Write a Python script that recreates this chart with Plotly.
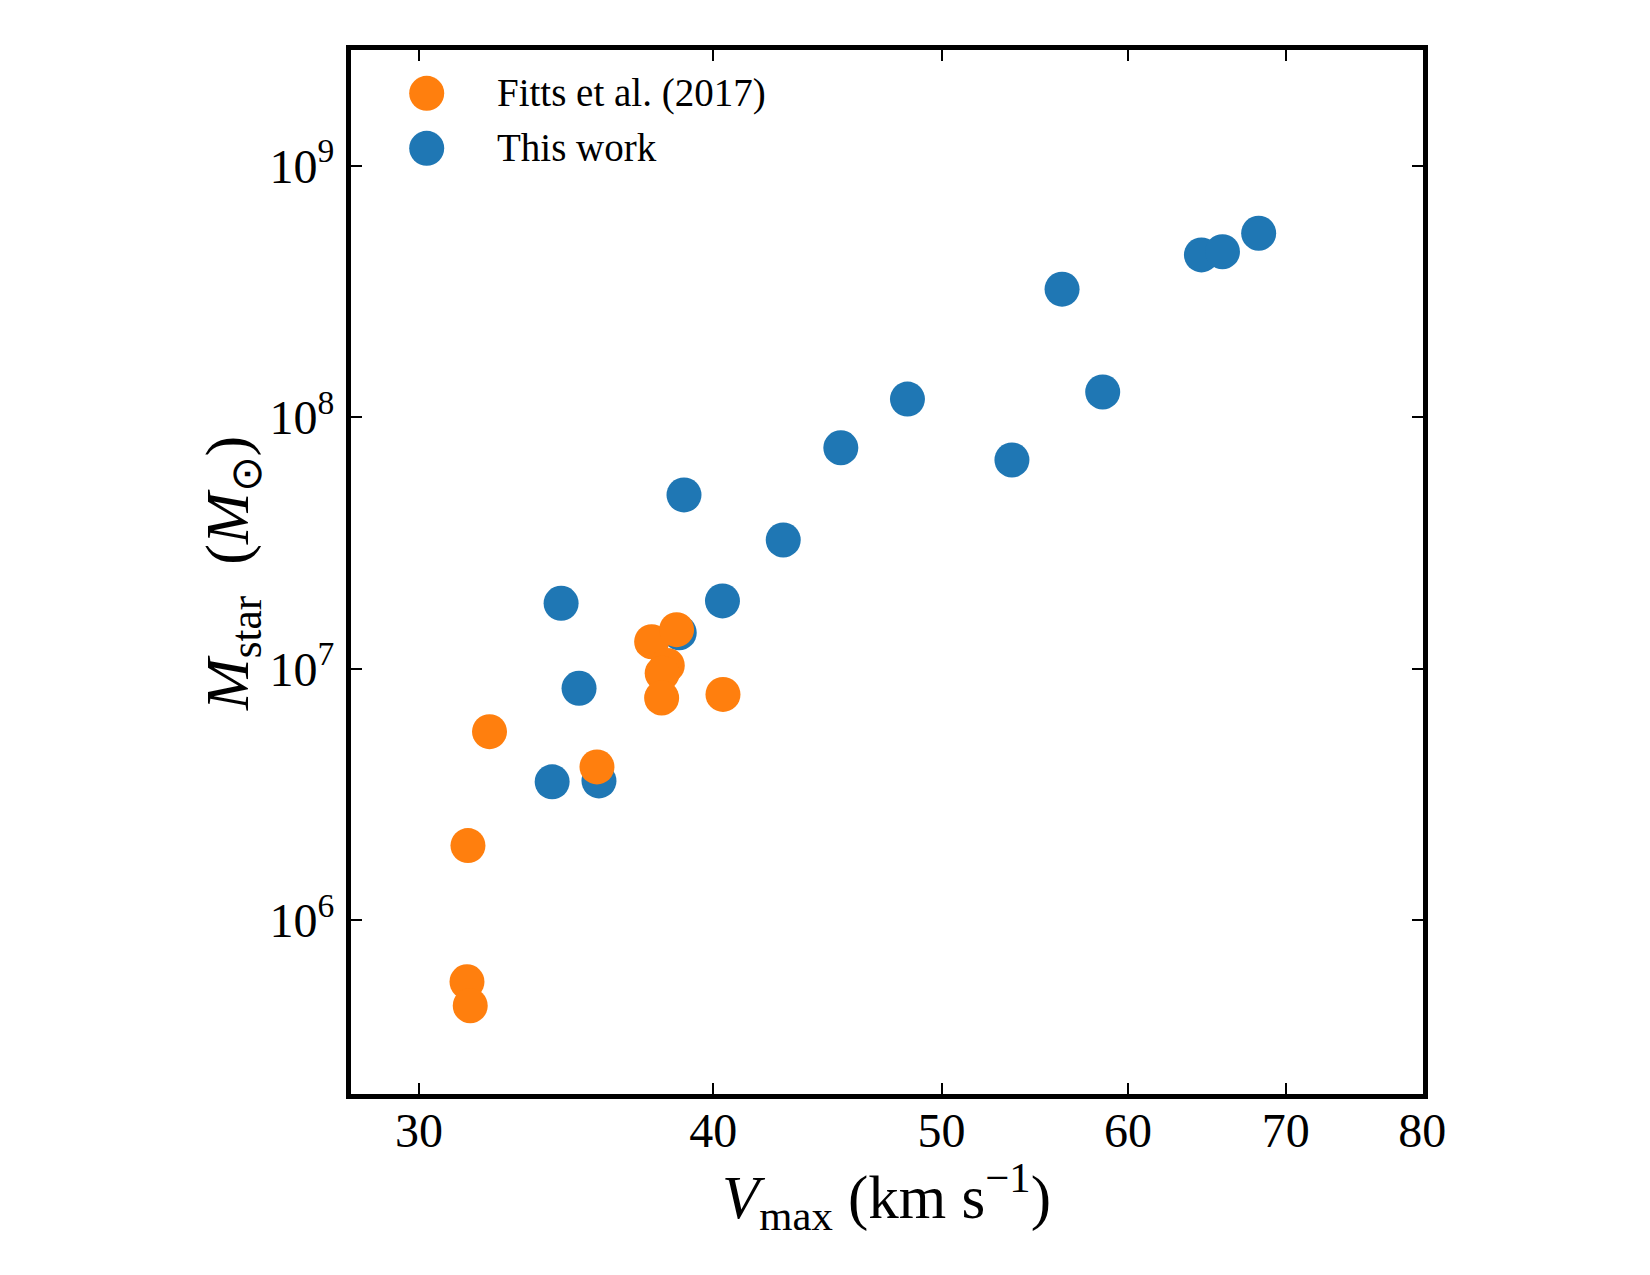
import math
import plotly.graph_objects as go

# ---- data ----
this_work_vmax = [34.47, 35.08, 34.17, 35.77, 38.69, 38.87, 40.36, 42.83,
                  45.31, 48.36, 53.56, 56.25, 58.53, 64.46, 65.80, 68.17]
this_work_mstar = [1.82e7, 8.36e6, 3.55e6, 3.58e6, 1.39e7, 4.91e7, 1.86e7, 3.25e7,
                   7.56e7, 1.18e8, 6.76e7, 3.23e8, 1.26e8, 4.42e8, 4.55e8, 5.39e8]

fitts_vmax = [31.47, 31.44, 31.54, 32.14, 35.70, 37.66, 38.59, 38.24, 38.05, 38.03, 40.38]
fitts_mstar = [1.98e6, 5.69e5, 4.57e5, 5.62e6, 4.07e6, 1.28e7, 1.43e7, 1.03e7,
               9.59e6, 7.65e6, 7.90e6]

x_tick_vals = [30, 40, 50, 60, 70, 80]
x_tick_text = ["30", "40", "50", "60", "70", "80"]
y_tick_vals = [1e6, 1e7, 1e8, 1e9]
y_tick_text = ["10<sup>6</sup>", "10<sup>7</sup>", "10<sup>8</sup>", "10<sup>9</sup>"]

legend_labels = ["Fitts et al. (2017)", "This work"]
BLUE = "#1f77b4"
ORANGE = "#ff7f0e"
FONT = "Liberation Serif"

# ---- geometry (pixels) ----
W, H = 1650, 1275
L, R, T, B = 351, 1423, 50, 1094
pw, ph = R - L, B - T
xmin = math.log10(28.07)
xmax = math.log10(80.05)
ymax = 9 + (165.7 - T) / 251.5
ymin = ymax - ph / 251.5

fig = go.Figure()
fig.add_trace(go.Scatter(x=this_work_vmax, y=this_work_mstar, mode="markers",
                         marker=dict(size=35, color=BLUE, line=dict(width=0)),
                         name=legend_labels[1], showlegend=False))
fig.add_trace(go.Scatter(x=fitts_vmax, y=fitts_mstar, mode="markers",
                         marker=dict(size=35, color=ORANGE, line=dict(width=0)),
                         name=legend_labels[0], showlegend=False))

axis_common = dict(showline=True, linewidth=5, linecolor="black", mirror="ticks",
                   ticks="inside", ticklen=11, tickwidth=2, tickcolor="black",
                   showgrid=False, zeroline=False, tickfont=dict(family=FONT, size=48, color="black"))

fig.update_xaxes(type="log", range=[xmin, xmax], tickvals=x_tick_vals, ticktext=x_tick_text,
                 ticklabelstandoff=-10, **axis_common)
fig.update_yaxes(type="log", range=[ymin, ymax], tickvals=y_tick_vals, ticktext=y_tick_text,
                 ticklabelstandoff=2, **axis_common)

def px_to_paper(px, py):
    return (px - L) / pw, 1 - (py - T) / ph

# legend drawn manually (large markers)
shapes = []
annotations = []
for i, (lab, col) in enumerate(zip(legend_labels, [ORANGE, BLUE])):
    cy = 93.3 + 55 * i
    xp, yp = px_to_paper(426.7, cy)
    shapes.append(dict(type="circle", xref="paper", yref="paper",
                       xsizemode="pixel", ysizemode="pixel", xanchor=xp, yanchor=yp,
                       x0=-17.5, x1=17.5, y0=-17.5, y1=17.5,
                       fillcolor=col, line=dict(width=0)))
    tx, ty = px_to_paper(495, cy - 0.5)
    annotations.append(dict(text=lab, xref="paper", yref="paper", x=tx, y=ty,
                            xanchor="left", yanchor="middle", showarrow=False,
                            font=dict(family=FONT, size=39, color="black")))

# axis titles
xtx, xty = px_to_paper(886, 1196)
annotations.append(dict(text="<i>V</i><sub>max</sub> (km s<sup>−1</sup>)", xref="paper", yref="paper",
                        x=xtx, y=xty, xanchor="center", yanchor="middle", showarrow=False,
                        font=dict(family=FONT, size=61, color="black")))
ytx, yty = px_to_paper(231, 574)
annotations.append(dict(text="<i>M</i><sub>star</sub>  (<i>M</i><sub>⊙</sub>)", xref="paper", yref="paper",
                        x=ytx, y=yty, xanchor="center", yanchor="middle", showarrow=False,
                        textangle=-90,
                        font=dict(family=FONT, size=62, color="black")))

fig.update_layout(width=W, height=H, margin=dict(l=L, r=W - R, t=T, b=H - B, pad=0),
                  plot_bgcolor="white", paper_bgcolor="white",
                  shapes=shapes, annotations=annotations, showlegend=False)

fig.write_html("out.html")
